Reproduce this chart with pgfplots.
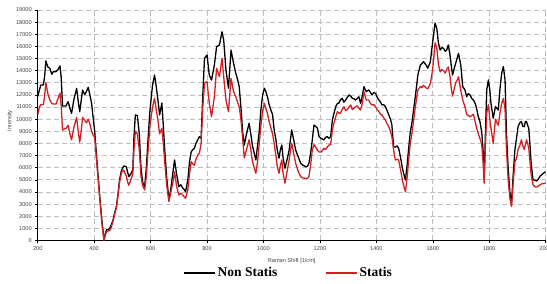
\documentclass[border=0pt]{standalone}
\usepackage{fontspec}
\setmainfont{Liberation Sans}
\newfontfamily\seriffont{Liberation Serif}
\usepackage{pgfplots}
\pgfplotsset{compat=1.18}
\definecolor{redline}{RGB}{208,32,36}
\definecolor{gridgray}{RGB}{190,190,190}
\pgfplotstableread{
x y
200 11860
206 12400
211 12820
220 12820
224 13400
229 14800
236 14300
243 14200
250 13700
255 13920
265 13920
272 14100
279 14390
283 13500
288 11090
300 11090
308 11440
314 10900
320 10480
328 11600
338 12540
344 11400
349 10620
355 11700
359 12410
367 12000
373 12300
379 12630
385 12000
391 11300
396 10200
402 9000
410 6500
420 3610
428 1500
435 40
440 600
444 870
450 900
455 1010
461 1300
467 1690
473 2300
479 2790
485 3900
490 4990
497 5800
505 6140
514 6080
519 5600
523 5260
530 5500
537 5810
541 8500
546 10350
553 10300
560 8800
566 6000
572 4800
579 4440
585 6000
590 8000
597 10500
602 11700
607 12820
614 13640
620 12700
626 11580
632 10350
640 11330
645 9500
650 7500
657 5200
665 3340
672 4300
679 5600
685 6640
692 5500
700 4440
707 4600
714 4330
719 4200
724 4020
732 5000
738 6500
744 7320
750 7500
755 7600
761 8010
767 8300
773 8560
779 8430
785 12000
791 15020
800 15290
808 13640
816 13230
826 14470
834 15980
844 16120
853 17210
859 16530
867 14060
876 12550
885 15700
894 14610
902 13780
908 13300
914 12680
920 11000
926 9000
932 7870
940 8800
949 9660
955 8800
961 7800
967 7200
973 6640
979 7800
985 9000
991 10800
997 12000
1003 12550
1008 12300
1014 11850
1020 11200
1026 10760
1032 10400
1038 9100
1044 8300
1049 7460
1055 6780
1060 7500
1065 7870
1069 6900
1076 5950
1083 6600
1091 7460
1096 8400
1100 9110
1107 8300
1114 7460
1123 6900
1132 6360
1140 6200
1150 6080
1155 6100
1161 6360
1167 7200
1173 8290
1179 9520
1185 9400
1191 9270
1197 8560
1205 8400
1214 8290
1220 8500
1226 8560
1232 8420
1238 8560
1244 9930
1250 10500
1256 11030
1262 11300
1267 11310
1273 11600
1279 11720
1285 11400
1291 11580
1297 11800
1303 12000
1309 11900
1315 11720
1320 11700
1326 11580
1332 11700
1338 11850
1344 11310
1350 11900
1356 12680
1364 12270
1373 12410
1379 12200
1385 12000
1391 12200
1397 12140
1403 11800
1409 11580
1415 11400
1420 11170
1426 11200
1432 11030
1438 10700
1444 10350
1450 10000
1455 9520
1461 7730
1467 7700
1473 7800
1479 7600
1486 6800
1492 6000
1497 5500
1503 4990
1509 6200
1514 7500
1520 8900
1526 9700
1532 10800
1538 11850
1547 13640
1556 14470
1562 14600
1567 14740
1575 14500
1582 14200
1591 14700
1599 16260
1604 17200
1608 17910
1614 17500
1620 16260
1626 15700
1632 15900
1638 15840
1644 15600
1649 15700
1655 16120
1661 15290
1665 14500
1670 13640
1676 14200
1681 14610
1686 15000
1691 15430
1699 14470
1706 12680
1714 12410
1720 11850
1726 12100
1732 12000
1738 11700
1744 11580
1750 11300
1755 10900
1761 10220
1767 9800
1773 9000
1778 7500
1782 4990
1786 8500
1791 12410
1797 13230
1802 12400
1806 11310
1814 10070
1822 11030
1827 10900
1832 10760
1838 12500
1844 13780
1850 14330
1856 13230
1861 8840
1867 6000
1873 4000
1879 3070
1885 5500
1891 7500
1897 8500
1902 9380
1908 9700
1914 9800
1919 9400
1924 9380
1928 9800
1932 9800
1936 9500
1940 9250
1944 8000
1948 6500
1955 5000
1961 4990
1968 4900
1975 5100
1980 5300
1985 5400
1990 5500
1995 5600
2000 5670
}\nonstatis
\pgfplotstableread{
x y
200 10360
206 11000
211 11200
220 11200
224 11800
229 13000
236 12100
243 11600
250 11300
255 11250
265 11250
272 11700
279 12150
283 11200
288 9100
295 9200
300 9250
308 9500
314 8800
320 8300
328 9300
338 10150
344 8900
349 8100
355 9200
359 10150
367 9900
373 9700
379 10000
385 9600
391 9000
396 8700
402 8500
410 6200
420 3400
428 1300
435 0
440 500
444 700
450 800
455 800
461 1100
467 1600
473 2200
479 2700
485 3800
490 4800
497 5600
505 5800
514 5300
519 4800
523 4550
530 5000
537 5500
541 7500
546 9000
553 8800
560 7500
566 5300
572 4500
579 4160
585 5300
590 7000
597 9300
602 10200
607 11000
614 11720
620 10800
626 9900
632 8800
640 9250
645 8000
650 6500
657 4600
665 3200
672 4000
679 4800
685 5670
692 4500
700 3750
707 3900
714 3750
719 3600
724 3480
732 4200
738 5500
744 6500
750 6300
755 6200
761 6700
767 7050
773 7200
779 8000
785 11000
791 12960
800 13100
808 11310
816 10210
826 11850
834 14200
844 13500
853 15020
859 13500
867 11580
876 10620
885 13360
894 12270
902 11850
908 11400
914 11030
920 10000
926 8500
932 6800
940 7500
949 8300
955 7500
961 6500
967 6000
973 5540
979 6500
985 8000
991 9500
997 10700
1003 11310
1008 10900
1014 10500
1020 9800
1026 9300
1032 8800
1038 8000
1044 7000
1049 6080
1055 5540
1060 6200
1065 6640
1069 5600
1076 4720
1083 5600
1091 6640
1096 7500
1100 8010
1107 7200
1114 6360
1123 5700
1132 5260
1140 5150
1150 5130
1155 5100
1161 5260
1167 6200
1173 7460
1179 7900
1185 7700
1191 7460
1197 7300
1205 7300
1214 7600
1220 7500
1226 7700
1232 7870
1238 7900
1244 9110
1250 9700
1256 10200
1262 10620
1267 10500
1273 10500
1279 10800
1285 11030
1291 10700
1297 10800
1303 11000
1309 11170
1315 10800
1320 10900
1326 11000
1332 11100
1338 10900
1344 10760
1350 11300
1356 12270
1364 11580
1373 11580
1379 11300
1385 11170
1391 11200
1397 11030
1403 10800
1409 10620
1415 10400
1420 10350
1426 10100
1432 9930
1438 9600
1444 9380
1450 9000
1455 8560
1461 7500
1467 6640
1473 6700
1479 6640
1486 5800
1492 5000
1497 4500
1503 4020
1509 5200
1514 6500
1520 8000
1526 8800
1532 9900
1538 11000
1547 12400
1556 12700
1562 12600
1567 12800
1575 12600
1582 12500
1591 12900
1599 14000
1604 15200
1608 16300
1614 15900
1620 14500
1626 13900
1632 14100
1638 14000
1644 13800
1649 14100
1655 14300
1661 13500
1665 12600
1670 11900
1676 12500
1681 13000
1686 13200
1691 13500
1699 12400
1706 11600
1714 11000
1720 10400
1726 10300
1732 10200
1738 10300
1744 10400
1750 9800
1755 9300
1761 8800
1767 8400
1773 8000
1778 6500
1782 4720
1786 7500
1791 10500
1797 11200
1802 10000
1806 9300
1814 8000
1822 10000
1827 9700
1832 9500
1838 10500
1844 11300
1850 11700
1856 10800
1861 7500
1867 5000
1873 3500
1879 2800
1885 4800
1891 6500
1897 6800
1902 7500
1908 7800
1914 8300
1919 7800
1924 7500
1928 7900
1932 8300
1936 8000
1940 7600
1944 6600
1948 5500
1955 4600
1961 4440
1968 4400
1975 4500
1980 4600
1985 4650
1990 4700
1995 4700
2000 4720
}\statis
\begin{document}
\begin{tikzpicture}
\path[use as bounding box] (-37.7pt,-43.5pt) rectangle (509.3pt,240.5pt);
\begin{axis}[
  at={(0pt,0pt)}, anchor=south west,
  scale only axis, width=508pt, height=230.5pt,
  xmin=200, xmax=2000, ymin=0, ymax=19000,
  axis x line*=bottom, axis y line*=left,
  xtick={200,400,...,2000}, ytick={0,1000,...,19000},
  scaled y ticks=false, scaled x ticks=false,
  grid=major,
  major grid style={gridgray, line width=0.7pt, dash pattern=on 5pt off 3pt},
  tick align=outside, major tick length=2.5pt,
  tick style={black, line width=0.5pt},
  axis line style={black, line width=0.8pt},
  /pgf/number format/assume math mode=true,
  /pgf/number format/set thousands separator={},
  ticklabel style={font=\fontsize{5.6}{6.5}\selectfont, text=black!75},
  xlabel={Raman Shift [1/cm]}, ylabel={Intensity},
  label style={font=\fontsize{5.6}{6.5}\selectfont, text=black!75},
  xlabel style={at={(axis description cs:0.5,-0.089)}, anchor=center},
  ylabel style={at={(axis description cs:-0.0545,0.52)}, anchor=center, rotate=0},
  legend style={at={(axis description cs:0.494,-0.141)}, anchor=center,
    draw=none, fill=none, legend columns=2,
    font=\seriffont\bfseries\fontsize{13.5}{15}\selectfont,
    /tikz/every even column/.append style={column sep=46pt}},
  legend image code/.code={\draw[#1] (0pt,0pt) -- (31pt,0pt);},
]
\addplot[black, line width=1.3pt, line join=round] table[x=x,y=y] {\nonstatis};
\addlegendentry{Non Statis}
\addplot[redline, line width=1.3pt, line join=round] table[x=x,y=y] {\statis};
\addlegendentry{Statis}
\end{axis}
\end{tikzpicture}
\end{document}
